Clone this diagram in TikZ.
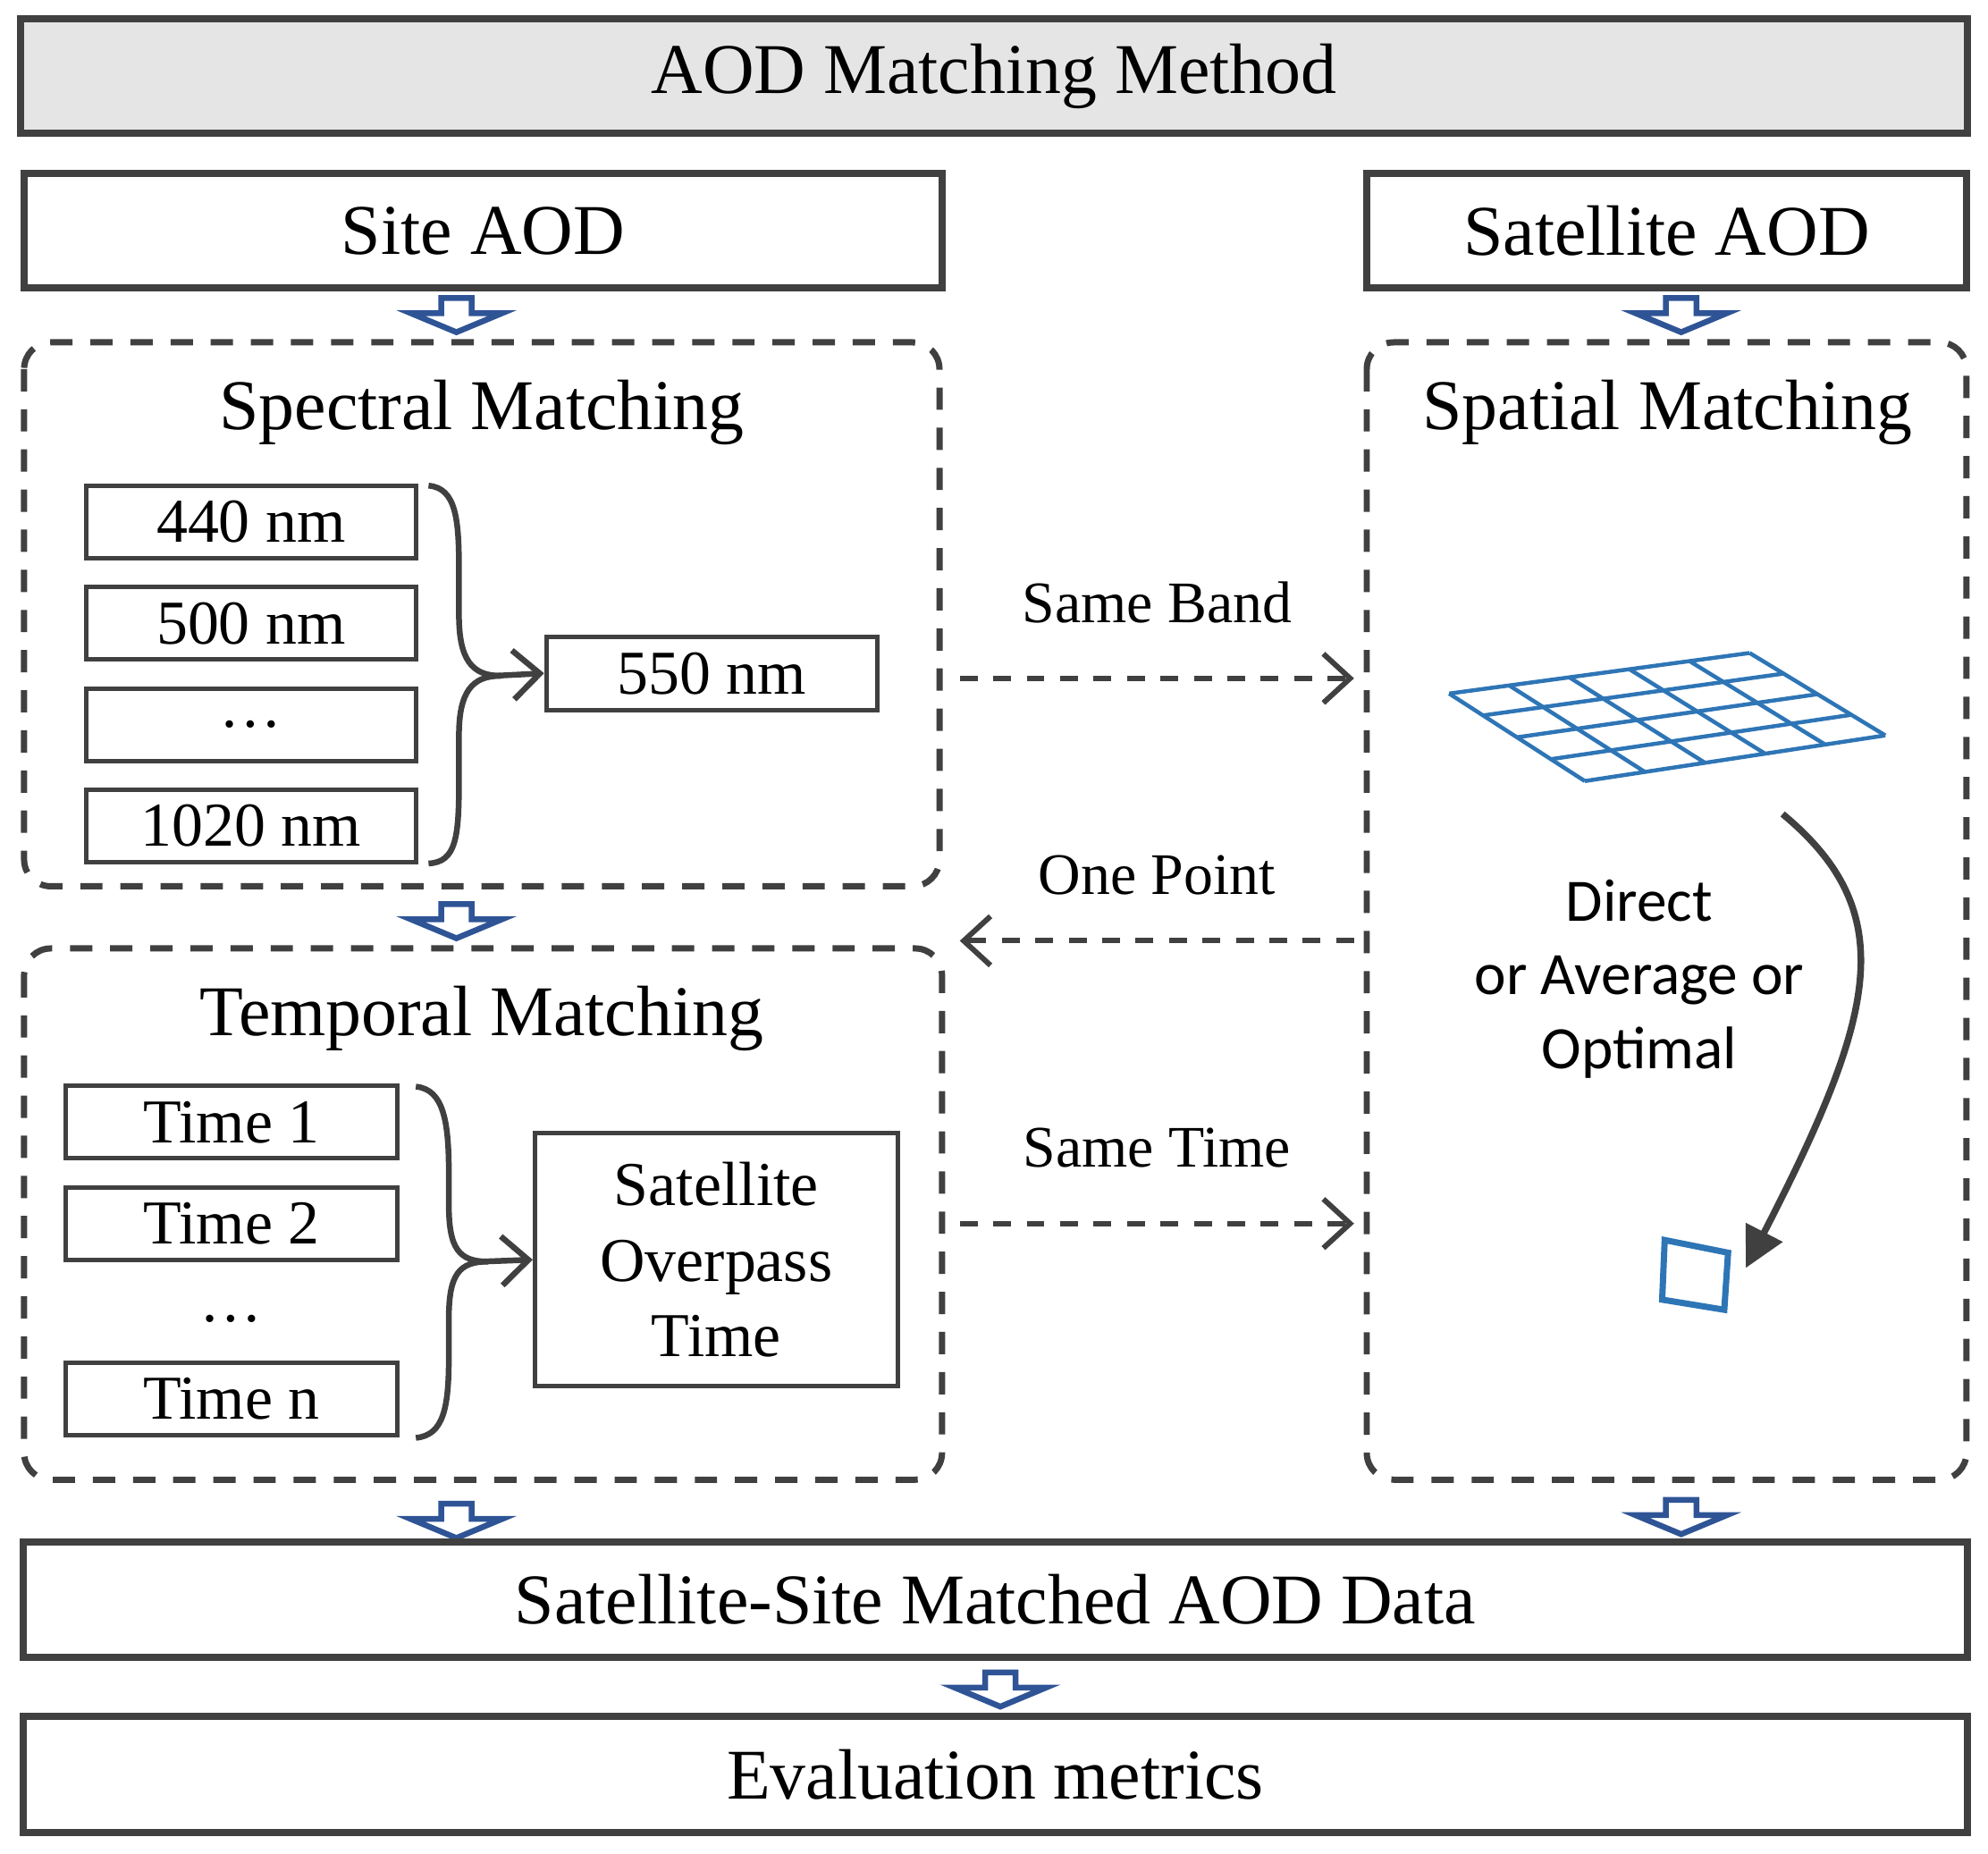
\documentclass[tikz,border=0pt]{standalone}
\usepackage{fontspec}
\setmainfont{Liberation Serif}
\newfontfamily\carfont{Carlito}
\usetikzlibrary{arrows.meta,calc}
\definecolor{bd}{RGB}{64,64,64}
\definecolor{ab}{RGB}{47,84,150}
\definecolor{gb}{RGB}{46,117,182}
\begin{document}
\begin{tikzpicture}[x=0.01cm,y=-0.01cm,
  box/.style={draw=bd,line width=1.6pt,inner sep=0},
  sbox/.style={draw=bd,line width=1pt,inner sep=0},
  dbox/.style={draw=bd,line width=1.4pt,dash pattern=on 5pt off 4pt,rounded corners=6pt},
  big/.style={font=\fontsize{16}{19}\selectfont},
  mid/.style={font=\fontsize{14}{17}\selectfont},
  lab/.style={font=\fontsize{13.2}{16}\selectfont},
  darr/.style={draw=bd,line width=1.2pt,dash pattern=on 4pt off 3.5pt,-{Straight Barb[length=6pt,width=11pt]}},
  hollow/.pic={\draw[ab,line width=1.3pt,fill=white] (-12,0)--(12,0)--(12,12)--(36,12)--(0,27)--(-36,12)--(-12,12)--cycle;}]
\useasboundingbox (0,0) rectangle (1568,1462);
% top
\node[box,fill=gray!20,minimum width=15.34cm,minimum height=0.9cm,big] (title) at (784,60) {AOD Matching Method};
\node[box,minimum width=7.24cm,minimum height=0.9cm,big] (site) at (381,182) {Site AOD};
\node[box,minimum width=4.73cm,minimum height=0.9cm,big] (sat) at (1314.5,182) {Satellite AOD};
\pic at (360,235) {hollow};
\pic at (1326,235) {hollow};
% spectral
\draw[dbox] (19,270) rectangle (741,699);
\node[big] (spt) at (380,325) {Spectral Matching};
\foreach \n/\y/\t in {a/411.5/440 nm,b/491.5/500 nm,c/571.5/\dots,d/651.5/1020 nm}
  \node[sbox,minimum width=2.6cm,minimum height=0.57cm,mid] (w\n) at (198,\y) {\t};
\node[sbox,minimum width=2.61cm,minimum height=0.58cm,mid] (w550) at (561.5,531) {550 nm};
\draw[bd,line width=1.3pt] (338,383) .. controls (360,385) and (362,410) .. (362,450) -- (362,485) .. controls (362,520) and (372,533) .. (395,533)
  .. controls (372,533) and (362,546) .. (362,580) -- (362,615) .. controls (362,660) and (360,680) .. (338,681);
\draw[bd,line width=1.3pt,-{Straight Barb[length=6pt,width=11pt]}] (390,533) -- (w550.west);
\pic at (360,713) {hollow};
% temporal
\draw[dbox] (19,748) rectangle (743,1167);
\node[big] (tpt) at (380,803) {Temporal Matching};
\foreach \n/\y/\t in {a/885/Time 1,b/965/Time 2,d/1103.5/Time n}
  \node[sbox,minimum width=2.61cm,minimum height=0.57cm,mid] (t\n) at (182.5,\y) {\t};
\node[mid] (tc) at (182.5,1040) {\dots};
\node[sbox,minimum width=2.86cm,minimum height=1.99cm,mid,align=center] (sot) at (565,993.5) {Satellite\\[0pt]Overpass\\[0pt]Time};
\draw[bd,line width=1.3pt] (328,857) .. controls (350,859) and (354,885) .. (354,925) -- (354,950) .. controls (354,985) and (362,995) .. (385,995)
  .. controls (362,995) and (354,1005) .. (354,1040) -- (354,1070) .. controls (354,1110) and (350,1132) .. (328,1134);
\draw[bd,line width=1.3pt,-{Straight Barb[length=6pt,width=11pt]}] (380,995) -- (sot.west);
\pic at (360,1186) {hollow};
% spatial
\draw[dbox] (1078,270) rectangle (1551,1167);
\node[big] (sst) at (1315,325) {Spatial Matching};
\coordinate (g1) at (1143,547); \coordinate (g2) at (1380,515);
\coordinate (g3) at (1487,580); \coordinate (g4) at (1250,616);
\foreach \i in {0,1,2,3,4,5} \draw[gb,line width=0.9pt] ($(g1)!\i/5!(g2)$) -- ($(g4)!\i/5!(g3)$);
\foreach \i in {0,1,2,3,4} \draw[gb,line width=0.9pt] ($(g1)!\i/4!(g4)$) -- ($(g2)!\i/4!(g3)$);
\node[font=\carfont\fontsize{13.5}{16.5}\selectfont,align=center] (dir) at (1293,772) {Direct\\or Average or\\Optimal};
\draw[gb,line width=1.4pt] (1313,978) -- (1363,988) -- (1360,1033) -- (1311,1025) -- cycle;
\coordinate (cs) at (1406,642); \coordinate (ce) at (1377,1000);
\draw[bd,line width=1.5pt,-{Triangle[length=9pt,width=9pt]}] (cs) .. controls (1500,720) and (1480,800) .. (ce);
\pic at (1326,1183) {hollow};
% dashed connectors
\coordinate (sb1) at (757,535); \coordinate (sb2) at (1068,535);
\draw[darr] (sb1) -- node[lab,above=0.3cm] (lsb) {Same Band} (sb2);
\coordinate (op1) at (1068,742); \coordinate (op2) at (757,742);
\draw[darr] (op1) -- node[lab,above=0.22cm] (lop) {One Point} (op2);
\coordinate (st1) at (757,965); \coordinate (st2) at (1068,965);
\draw[darr] (st1) -- node[lab,above=0.3cm] (lst) {Same Time} (st2);
% bottom
\node[box,minimum width=15.32cm,minimum height=0.91cm,big] (match) at (785,1261.5) {Satellite-Site Matched AOD Data};
\pic at (789,1319) {hollow};
\node[box,minimum width=15.32cm,minimum height=0.91cm,big] (eval) at (785,1399.5) {Evaluation metrics};
\end{tikzpicture}
\end{document}
